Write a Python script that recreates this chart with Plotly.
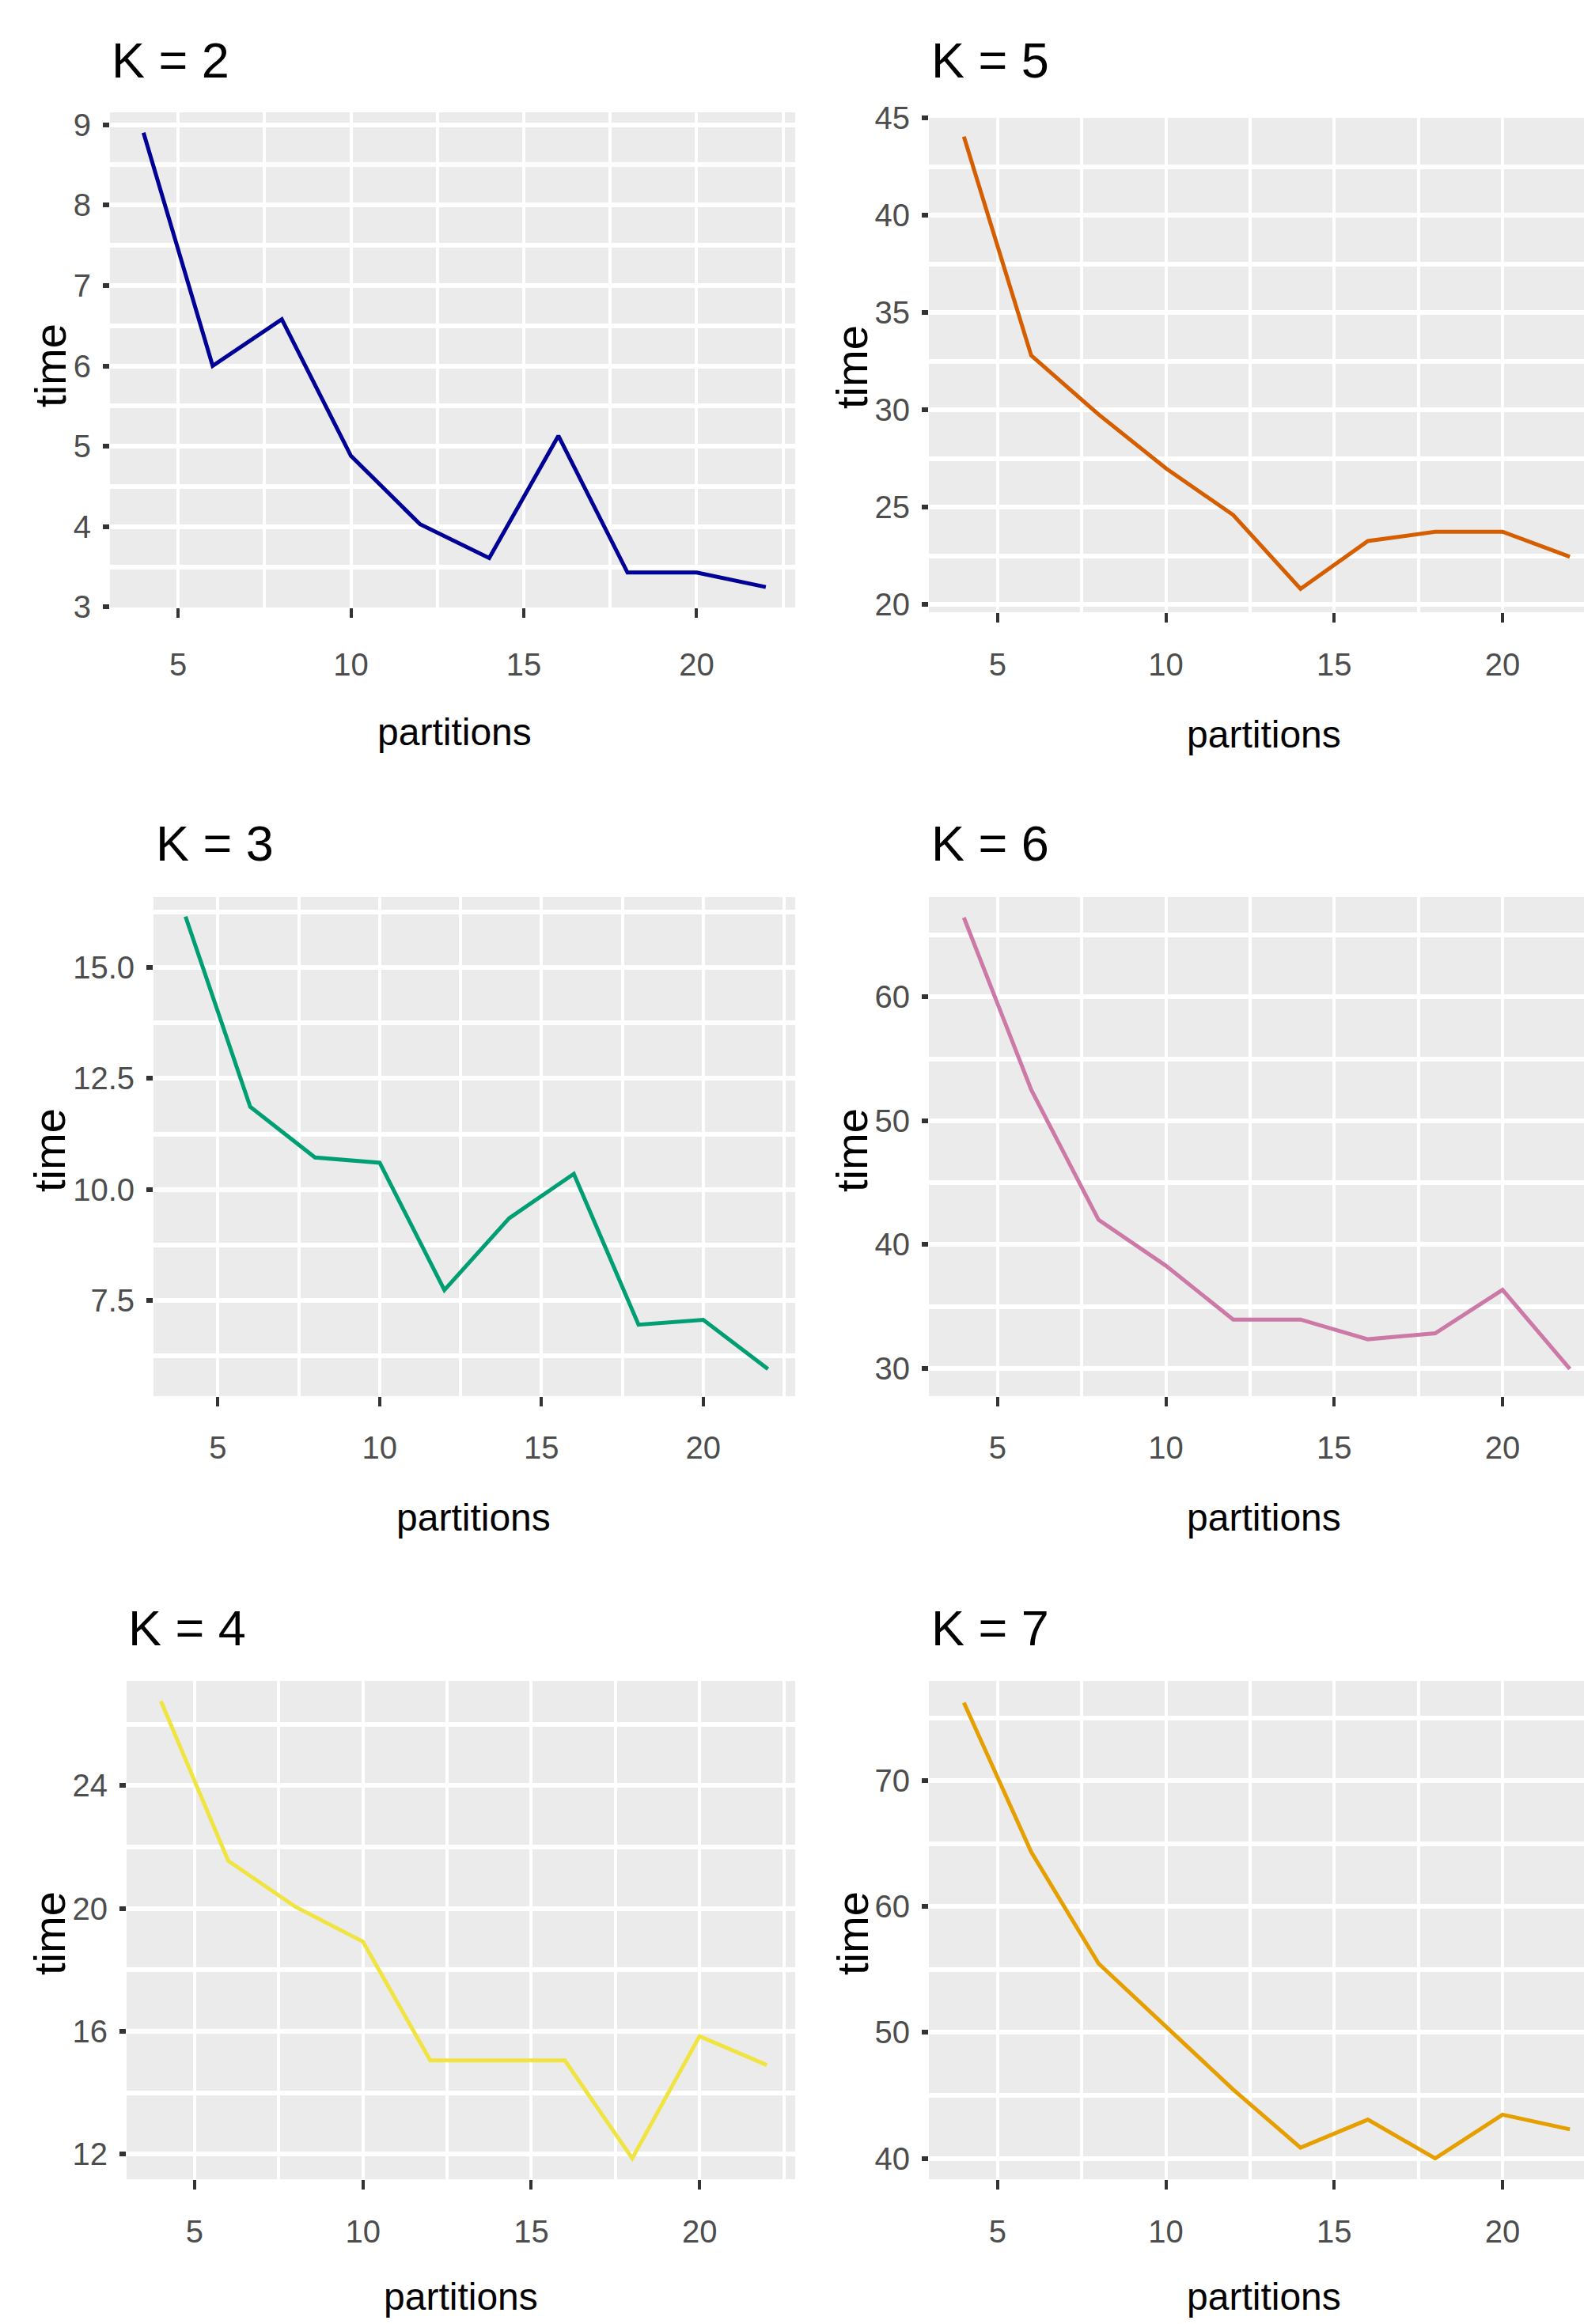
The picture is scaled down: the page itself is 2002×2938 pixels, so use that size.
import plotly.graph_objects as go

# ---------------- data ----------------
partitions = [4, 6, 8, 10, 12, 14, 16, 18, 20, 22]
time_k2 = [8.90, 6.00, 6.58, 4.88, 4.03, 3.61, 5.13, 3.43, 3.43, 3.25]
time_k3 = [16.15, 11.86, 10.72, 10.60, 7.73, 9.35, 10.35, 6.95, 7.06, 5.95]
time_k4 = [26.75, 21.55, 20.05, 18.92, 15.05, 15.05, 15.05, 11.86, 15.84, 14.90]
time_k5 = [44.05, 32.80, 29.77, 27.00, 24.60, 20.80, 23.26, 23.74, 23.74, 22.45]
time_k6 = [66.40, 52.50, 42.00, 38.30, 33.95, 33.95, 32.36, 32.84, 36.35, 29.96]
time_k7 = [76.20, 64.34, 55.48, 50.48, 45.47, 40.85, 43.08, 40.00, 43.47, 42.31]
titles = ["K = 2", "K = 5", "K = 3", "K = 6", "K = 4", "K = 7"]
x_title = "partitions"
y_title = "time"

W, H = 2002, 2938
FONT = "Liberation Sans, Arial, Helvetica, sans-serif"

# panel geometry (pixels): left, right, top, bottom
panels = [
    dict(y=time_k2, color="#000096", box=(139, 1005, 142, 768), xr=[3.03, 22.85], yr=[2.995, 9.153],
         t0=3, dt=1, fmt="d", xstand=25, title_xy=(139, 76), ytit=(63, 462), xtit=(574, 926)),
    dict(y=time_k5, color="#D55E00", box=(1174, 2002, 149, 774), xr=[2.96, 22.42], yr=[19.6, 45.02],
         t0=20, dt=5, fmt="d", xstand=19, title_xy=(1175, 76), ytit=(1077, 464), xtit=(1597, 929)),
    dict(y=time_k3, color="#009E73", box=(194, 1005, 1134, 1765), xr=[3.01, 22.84], yr=[5.34, 16.59],
         t0=7.5, dt=2.5, fmt=".1f", xstand=18, title_xy=(195, 1066), ytit=(63, 1454), xtit=(598, 1918)),
    dict(y=time_k6, color="#CC79A7", box=(1174, 2002, 1134, 1765), xr=[2.96, 22.42], yr=[27.77, 68.06],
         t0=30, dt=10, fmt="d", xstand=18, title_xy=(1175, 1066), ytit=(1077, 1454), xtit=(1597, 1918)),
    dict(y=time_k4, color="#F0E442", box=(160, 1005, 2125, 2755), xr=[2.98, 22.84], yr=[11.18, 27.41],
         t0=12, dt=4, fmt="d", xstand=19, title_xy=(160, 2058), ytit=(62, 2444), xtit=(582, 2903)),
    dict(y=time_k7, color="#E69F00", box=(1174, 2002, 2125, 2755), xr=[2.96, 22.42], yr=[38.34, 77.93],
         t0=40, dt=10, fmt="d", xstand=19, title_xy=(1175, 2058), ytit=(1077, 2444), xtit=(1597, 2903)),
]

fig = go.Figure()
layout = dict(
    width=W, height=H, autosize=False, margin=dict(l=0, r=0, t=0, b=0, pad=0, autoexpand=False),
    paper_bgcolor="white", plot_bgcolor="#EBEBEB", showlegend=False, annotations=[],
)

for i, p in enumerate(panels):
    n = "" if i == 0 else str(i + 1)
    l, r, t, b = p["box"]
    fig.add_trace(go.Scatter(x=partitions, y=p["y"], mode="lines",
                             line=dict(color=p["color"], width=5),
                             xaxis="x" + n, yaxis="y" + n, hoverinfo="skip"))
    layout["xaxis" + n] = dict(
        domain=[l / W, r / W], anchor="y" + n, range=p["xr"], automargin=False,
        tickmode="linear", tick0=5, dtick=5,
        ticks="outside", ticklen=12, tickwidth=4, tickcolor="#333333",
        showgrid=True, gridcolor="white", gridwidth=4,
        minor=dict(tick0=0, dtick=2.5, showgrid=True, gridcolor="white", gridwidth=4),
        zeroline=False, showline=False,
        tickfont=dict(family=FONT, size=40, color="#4D4D4D"),
        ticklabelstandoff=p["xstand"], fixedrange=True,
    )
    layout["yaxis" + n] = dict(
        domain=[1 - b / H, 1 - t / H], anchor="x" + n, range=p["yr"], automargin=False,
        tickmode="linear", tick0=p["t0"], dtick=p["dt"], tickformat=p["fmt"],
        ticks="outside", ticklen=8, tickwidth=6, tickcolor="#333333",
        showgrid=True, gridcolor="white", gridwidth=6,
        minor=dict(tick0=p["t0"], dtick=p["dt"] / 2, showgrid=True, gridcolor="white", gridwidth=6),
        zeroline=False, showline=False,
        tickfont=dict(family=FONT, size=40, color="#4D4D4D"),
        ticklabelstandoff=7, fixedrange=True,
    )
    tx, ty = p["title_xy"]
    layout["annotations"].append(dict(
        text=titles[i], xref="paper", yref="paper", x=tx / W, y=1 - ty / H,
        xanchor="left", yanchor="middle", showarrow=False,
        font=dict(family=FONT, size=63, color="black")))
    xx, xy = p["xtit"]
    layout["annotations"].append(dict(
        text=x_title, xref="paper", yref="paper", x=xx / W, y=1 - xy / H,
        xanchor="center", yanchor="middle", showarrow=False,
        font=dict(family=FONT, size=48, color="black")))
    yx, yy = p["ytit"]
    layout["annotations"].append(dict(
        text=y_title, xref="paper", yref="paper", x=yx / W, y=1 - yy / H,
        xanchor="center", yanchor="middle", showarrow=False, textangle=-90,
        font=dict(family=FONT, size=56, color="black")))

fig.update_layout(**layout)
fig.write_html("out.html")
